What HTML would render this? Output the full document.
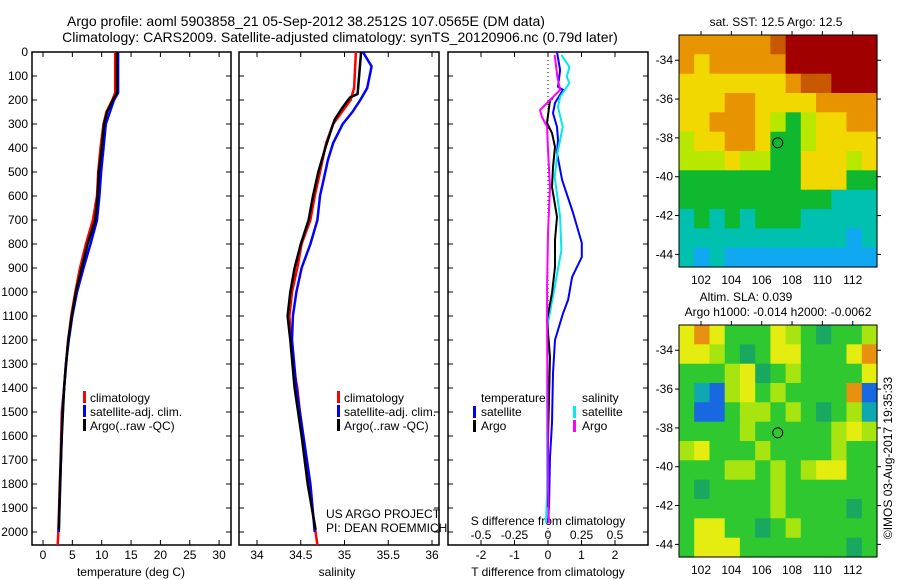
<!DOCTYPE html>
<html><head><meta charset="utf-8"><style>
html,body{margin:0;padding:0;background:#fff;}
svg{display:block;font-family:"Liberation Sans",sans-serif;}
</style></head><body>
<svg id="chart" width="900" height="580" viewBox="0 0 900 580">
<text x="306" y="26" font-size="14" text-anchor="middle">Argo profile: aoml 5903858_21 05-Sep-2012 38.2512S 107.0565E (DM data)</text>
<text x="340" y="42" font-size="14" text-anchor="middle">Climatology: CARS2009. Satellite-adjusted climatology: synTS_20120906.nc (0.79d later)</text>
<g id="maps"></g>
<g id="panels"></g>
</svg>
<script>
// ---- data ----
const depthTicks=[0,100,200,300,400,500,600,700,800,900,1000,1100,1200,1300,1400,1500,1600,1700,1800,1900,2000];
const tempTicks=[0,5,10,15,20,25,30];
const salTicks=[34,34.5,35,35.5,36];
const tdiffTicks=[-2,-1,0,1,2];
const sdiffTicks=[-0.5,-0.25,0,0.25,0.5];
const sdiffTickLabels=["-0.5","-0.25","0","0.25","0.5"];

const tClimDepth=[0,170,200,250,300,400,500,600,700,800,900,1000,1100,1200,1300,1400,1500,1700,2000,2054];
const tClimVal=[12.3,12.3,11.8,10.8,10.3,9.8,9.4,9.2,8.5,7.3,6.3,5.5,4.8,4.3,3.9,3.6,3.2,3.0,2.6,2.5];
const tSatDepth=[0,170,200,300,400,500,600,700,800,900,1000,1100,1200,1300,1500,2000];
const tSatVal=[12.8,12.8,12.1,10.7,10.3,9.9,9.6,9.2,8.1,6.9,5.8,5.0,4.4,3.9,3.3,2.7];
const tArgoDepth=[0,170,200,250,300,400,500,600,700,800,900,1000,1100,1200,1400,1600,1800,1990];
const tArgoVal=[12.6,12.6,11.9,10.9,10.4,10.0,9.5,9.3,8.9,7.6,6.6,5.6,4.9,4.3,3.6,3.2,2.9,2.7];

const sClimDepth=[0,150,200,230,280,300,380,500,600,700,800,900,1000,1100,1200,1300,1400,1500,1700,1900,2054];
const sClimVal=[35.13,35.11,35.07,35.01,34.91,34.87,34.79,34.72,34.66,34.61,34.51,34.46,34.40,34.37,34.39,34.41,34.46,34.49,34.56,34.63,34.69];
const sSatDepth=[0,60,150,200,250,300,380,450,500,600,700,800,900,1000,1100,1200,1400,1600,1800,2000];
const sSatVal=[35.21,35.31,35.26,35.18,35.09,34.98,34.87,34.81,34.78,34.72,34.69,34.61,34.51,34.45,34.41,34.40,34.45,34.53,34.61,34.66];
const sArgoDepth=[0,175,190,230,280,300,400,500,600,700,800,900,1000,1100,1200,1400,1600,1800,1990];
const sArgoVal=[35.19,35.15,35.06,34.98,34.89,34.87,34.78,34.70,34.64,34.59,34.50,34.43,34.38,34.35,34.38,34.43,34.51,34.58,34.67];

const dTSatDepth=[0,75,145,158,212,255,312,367,421,533,671,796,854,938,1033,1088,1200,1338,1546,1688,1896,1963];
const dTSatVal=[0.27,0.36,0.30,0.45,0.21,0.15,0.27,0.30,0.27,0.42,0.75,1.01,1.01,0.72,0.60,0.45,0.21,0.15,0.12,0.06,0.03,0.0];
const dSSatDepth=[12,62,104,129,187,229,312,367,421,521,687,825,979,1129,1408,1825,1963];
const dSSatVal=[0.10,0.16,0.14,0.16,0.09,0.075,0.11,0.09,0.07,0.05,0.09,0.10,0.05,0.0,-0.007,-0.007,-0.015];
const dTArgoDepth=[192,200,296,338,396,479,562,687,783,896,1004,1117,1271,1617,1896];
const dTArgoVal=[0.15,0.06,-0.03,0.12,0.21,0.15,0.12,0.27,0.21,0.21,0.12,-0.03,0.06,0.0,0.0];
const dSArgoDepth=[12,104,158,200,242,271,312,408,562,754,979,1129,1825,1963];
const dSArgoVal=[0.05,0.07,0.09,0.015,-0.06,-0.045,-0.007,0.0,0.015,0.0,-0.007,-0.007,0.0,0.007];

const lonTicks=[102,104,106,108,110,112];
const latTicks=[-34,-36,-38,-40,-42,-44];
const argoLon=107.0565, argoLat=-38.2512;
const sstGrid=[
"8888889aaaaaa","8788888aaaaaa","7777777899aaa","7778877778888",
"7788876567788","6778875567777","6667665577767","5555555577755",
"5555555555444","4545455544444","4444444444434","4343333333333"];
const slaGrid=[
"YoYgggYygtggy","YYygtgYYgggYo","gggyYtgyggggY","gcbyYgyggggob",
"gbbgyygygtgyc","ggggygggggyYy","yYgggyggggygg","gggyygygyYYgg",
"gtggggygggggg","ggggggyggggtg","gYYggtgyggggg","gYYYgggggggtg"];
const sstColors={"3":"#10a8f0","4":"#00c0b0","5":"#10b830","6":"#b8e800","7":"#f0d800","8":"#e89400","9":"#c85800","a":"#a00000"};
const slaColors={"g":"#30c830","y":"#a8e410","Y":"#e4ec10","o":"#e89010","b":"#1868e0","c":"#10a8b0","t":"#18a860"};

// ---- helpers ----
const NS="http://www.w3.org/2000/svg";
function mk(tag,attrs,parent,txt){const e=document.createElementNS(NS,tag);for(const k in attrs)e.setAttribute(k,attrs[k]);if(txt!==undefined)e.textContent=txt;parent.appendChild(e);return e;}
const TOP=52,BOT=545;
const yD=d=>TOP+d*0.24;
const xT=v=>43+v*5.87;
const xS=v=>257+(v-34)*87.5;
const xDT=v=>548+v*33.5;
const xDS=v=>548+v*134;

const P=document.getElementById('panels');
function panel(x0,x1,name){
  const r=mk('rect',{x:x0,y:TOP,width:x1-x0,height:BOT-TOP,fill:'none',stroke:'#000','stroke-width':1.5},P);
  
  
  depthTicks.forEach(d=>{mk('line',{x1:x0,x2:x0+5,y1:yD(d),y2:yD(d),stroke:'#000'},P);mk('line',{x1:x1-5,x2:x1,y1:yD(d),y2:yD(d),stroke:'#000'},P);});
}
function xticks(ticks,fx,labels,ly,name){
  ticks.forEach((t,i)=>{
    const x=fx(t);
    mk('line',{x1:x,x2:x,y1:TOP,y2:TOP+5,stroke:'#000'},P);
    mk('line',{x1:x,x2:x,y1:BOT-5,y2:BOT,stroke:'#000'},P);
    const tx=mk('text',{x:x,y:ly,'font-size':12,'text-anchor':'middle'},P,labels?labels[i]:String(t));
    
    
  });
}
function line(ds,vs,fx,color,name,w){
  const pts=[];
  for(let i=0;i<ds.length;i++){
    pts.push(fx(vs[i]).toFixed(1)+','+yD(ds[i]).toFixed(1));
  }
  const p=mk('polyline',{points:pts.join(' '),fill:'none',stroke:color,'stroke-width':w||2.5,'stroke-linejoin':'round'},P);
  
  
}
function txt(x,y,s,name,anchor,size){
  const t=mk('text',{x:x,y:y,'font-size':size||12,'text-anchor':anchor||'start'},P,s);
  
  
  return t;
}
function legbar(x,y,color){mk('rect',{x:x,y:y-10,width:3,height:12,fill:color},P);}

depthTicks.forEach(d=>{
  txt(28,yD(d)+4,String(d),'depth-tick-label','end',12);
});

// panel 1 temperature
panel(32,231,'temperature-panel');
xticks(tempTicks,xT,null,559,'temperature-tick-label');
txt(131,576,'temperature (deg C)','temperature-axis-title','middle');
line(tClimDepth,tClimVal,xT,'#ff0000','temp-climatology-line');
line(tSatDepth,tSatVal,xT,'#0000ff','temp-satellite-line');
line(tArgoDepth,tArgoVal,xT,'#000000','temp-argo-line');
[['climatology','#f00'],['satellite-adj. clim.','#00f'],['Argo(..raw -QC)','#000']].forEach((e,i)=>{legbar(83,401+i*14,e[1]);txt(90,402+i*14,e[0],'temp-legend-entry');});

// panel 2 salinity
panel(239,439,'salinity-panel');
xticks(salTicks,xS,null,559,'salinity-tick-label');
txt(337,576,'salinity','salinity-axis-title','middle');
line(sClimDepth,sClimVal,xS,'#ff0000','sal-climatology-line');
line(sSatDepth,sSatVal,xS,'#0000ff','sal-satellite-line');
line(sArgoDepth,sArgoVal,xS,'#000000','sal-argo-line');
[['climatology','#f00'],['satellite-adj. clim.','#00f'],['Argo(..raw -QC)','#000']].forEach((e,i)=>{legbar(337,401+i*14,e[1]);txt(344,402+i*14,e[0],'sal-legend-entry');});
txt(326,518,'US ARGO PROJECT','project-credit');
txt(326,532,'PI: DEAN ROEMMICH','pi-credit');

// panel 3 differences
panel(448,648,'difference-panel');
xticks(tdiffTicks,xDT,null,559,'tdiff-tick-label');
sdiffTicks.forEach((t,i)=>{txt(xDS(t),539,sdiffTickLabels[i],'sdiff-tick-label','middle');});
txt(548,525,'S difference from climatology','sdiff-axis-title','middle');
txt(548,576,'T difference from climatology','tdiff-axis-title','middle');
const zl=mk('line',{x1:548,x2:548,y1:TOP,y2:BOT,stroke:'#000','stroke-dasharray':'1,3'},P);


line(dTSatDepth,dTSatVal,xDT,'#0000ff','tdiff-satellite-line',2);
line(dSSatDepth,dSSatVal,xDS,'#00e8f0','sdiff-satellite-line',2);
line(dTArgoDepth,dTArgoVal,xDT,'#000000','tdiff-argo-line',2);
line(dSArgoDepth,dSArgoVal,xDS,'#ff00ff','sdiff-argo-line',2);
txt(481,402,'temperature','legend-temperature-header');
legbar(473,416,'#00f');txt(481,416,'satellite','legend-temp-satellite');
legbar(473,430,'#000');txt(481,430,'Argo','legend-temp-argo');
txt(582,402,'salinity','legend-salinity-header');
legbar(573,416,'#0ee');txt(582,416,'satellite','legend-sal-satellite');
legbar(573,430,'#f0f');txt(582,430,'Argo','legend-sal-argo');

// ---- maps ----
const M=document.getElementById('maps');
const MX0=679,MX1=877,LON0=100.55,LON1=113.6;
function map(y0,y1,grid,colors,name,tickName){
  const lat0=-32.7,lat1=-44.65;
  const xL=lo=>MX0+(lo-LON0)/(LON1-LON0)*(MX1-MX0);
  const yL=la=>y0+(la-lat0)/(lat1-lat0)*(y1-y0);
  const g=mk('g',{},M);
  
  
  const rows=grid.length,cols=grid[0].length;
  const cw=(MX1-MX0)/cols,ch=(y1-y0)/rows;
  grid.forEach((row,r)=>{for(let c=0;c<cols;c++){
    const cell=mk('rect',{x:(MX0+c*cw).toFixed(1),y:(y0+r*ch).toFixed(1),width:(cw+0.6).toFixed(1),height:(ch+0.6).toFixed(1),fill:colors[row[c]]},g);
    
    
  }});
  mk('rect',{x:MX0,y:y0,width:MX1-MX0,height:y1-y0,fill:'none',stroke:'#000','stroke-width':1},g);
  lonTicks.forEach(lo=>{const x=xL(lo);mk('line',{x1:x,x2:x,y1:y0-4,y2:y0,stroke:'#000'},g);
    const t=mk('text',{x:x,y:y1+17,'font-size':12,'text-anchor':'middle'},g,String(lo));
    
    });
  latTicks.forEach(la=>{const y=yL(la);mk('line',{x1:MX0-4,x2:MX0,y1:y,y2:y,stroke:'#000'},g);mk('line',{x1:MX1,x2:MX1+4,y1:y,y2:y,stroke:'#000'},g);
    const t=mk('text',{x:MX0-6,y:y+4,'font-size':12,'text-anchor':'end'},g,String(la));
    
    });
  const c=mk('circle',{cx:xL(argoLon),cy:yL(argoLat),r:5,fill:'none',stroke:'#000','stroke-width':1},g);
  
  
}
map(35,267,sstGrid,sstColors,'sst-map','sst');
map(325,557,slaGrid,slaColors,'sla-map','sla');
function mt(x,y,s,name,anchor){const t=mk('text',{x:x,y:y,'font-size':12,'text-anchor':anchor||'middle'},M,s);return t;}
mt(776,26,'sat. SST: 12.5 Argo: 12.5','sst-map-title');
mt(746,301,'Altim. SLA: 0.039','sla-map-title');
mt(778,316,'Argo h1000: -0.014 h2000: -0.0062','sla-map-subtitle');
const v=mt(0,0,'\u00A9IMOS 03-Aug-2017 19:35:33','timestamp-credit');
v.setAttribute('transform','translate(892,458) rotate(-90)');
</script>
</body></html>
